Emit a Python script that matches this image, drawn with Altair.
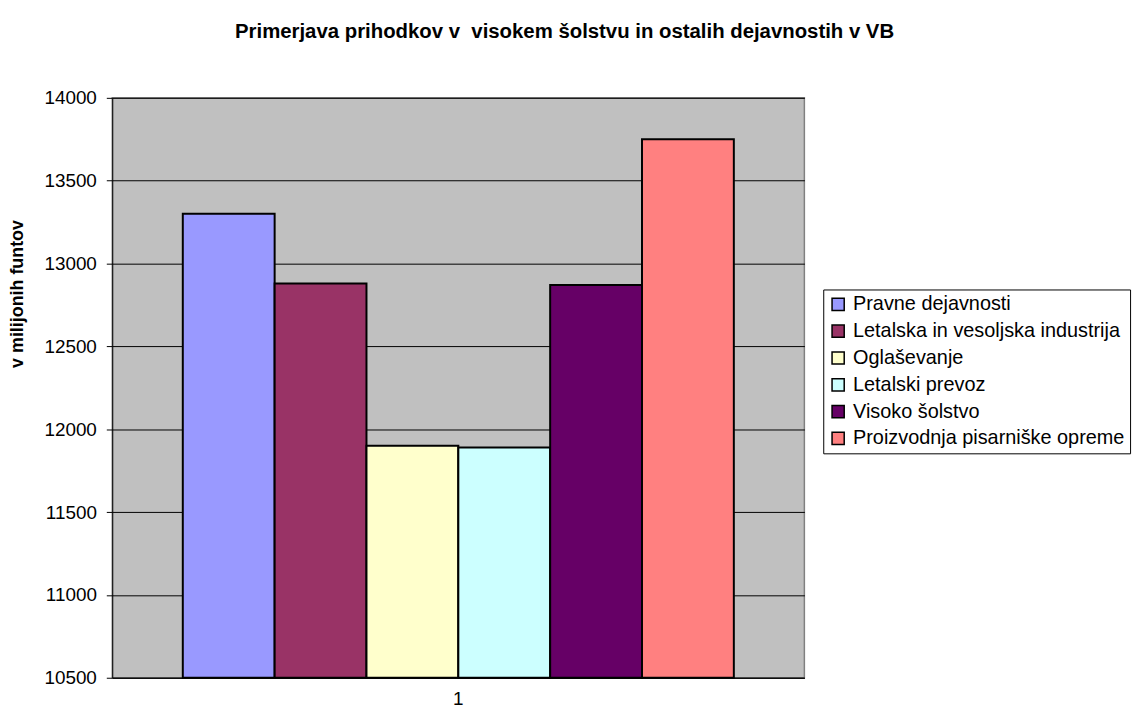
import altair as alt
import pandas as pd

series = ["Pravne dejavnosti", "Letalska in vesoljska industrija", "Oglaševanje",
          "Letalski prevoz", "Visoko šolstvo", "Proizvodnja pisarniške opreme"]
values = [13300, 12880, 11900, 11890, 12870, 13750]
colors = ["#9999FF", "#993366", "#FFFFCC", "#CCFFFF", "#660066", "#FF8080"]
group = ["1"] * len(series)
y_ticks = [10500, 11000, 11500, 12000, 12500, 13000, 13500, 14000]

df = pd.DataFrame({"grp": group, "series": series, "value": values})

FONT = "Liberation Sans"

chart = alt.Chart(df).mark_bar(stroke="black", strokeWidth=2).encode(
    x=alt.X("grp:N", title=None,
            scale=alt.Scale(paddingInner=0, paddingOuter=0.128),
            axis=alt.Axis(labelAngle=0, ticks=False, domainColor="black",
                          domainWidth=1, labelFont=FONT, labelFontSize=19,
                          labelColor="black", labelPadding=12)),
    xOffset=alt.XOffset("series:N", sort=series,
                        scale=alt.Scale(paddingInner=0, paddingOuter=0)),
    y=alt.Y("value:Q", title="v milijonih funtov",
            scale=alt.Scale(domain=[10500, 14000], zero=False, nice=False),
            axis=alt.Axis(values=y_ticks, format="d", grid=True, gridColor="black",
                          gridWidth=1, gridOpacity=1, tickColor="black",
                          tickSize=6, domainColor="black", labelFont=FONT,
                          labelFontSize=19, labelColor="black", labelPadding=10,
                          titleFont=FONT, titleFontSize=18, titleFontWeight="bold",
                          titleColor="black", titleX=-95, titleY=197,
                          titleAngle=-90, titleAlign="center",
                          titleBaseline="middle")),
    y2=alt.datum(10500),
    color=alt.Color("series:N", sort=series,
                    scale=alt.Scale(domain=series, range=colors),
                    legend=alt.Legend(title=None, orient="none", legendX=716,
                                      legendY=193, strokeColor="black",
                                      padding=5, symbolType="square",
                                      symbolSize=150, symbolStrokeColor="black",
                                      symbolStrokeWidth=1.5, symbolOpacity=1,
                                      labelFont=FONT, labelFontSize=20,
                                      labelColor="black", rowPadding=7,
                                      labelOffset=5, labelLimit=400)),
).properties(
    width=697,
    height=584,
    title=alt.TitleParams("Primerjava prihodkov v\u00a0 visokem šolstvu in ostalih dejavnostih v VB",
                          font=FONT, fontSize=20.5, fontWeight="bold", color="black",
                          anchor="middle", dx=107, offset=47),
    autosize=alt.AutoSizeParams(type="none"),
    padding={"left": 105, "top": 88, "right": 338, "bottom": 29},
).configure_view(
    fill="#C0C0C0", stroke="#808080", strokeWidth=1.5
)

chart.save("out.html", embed_options={"renderer": "svg", "actions": False})
